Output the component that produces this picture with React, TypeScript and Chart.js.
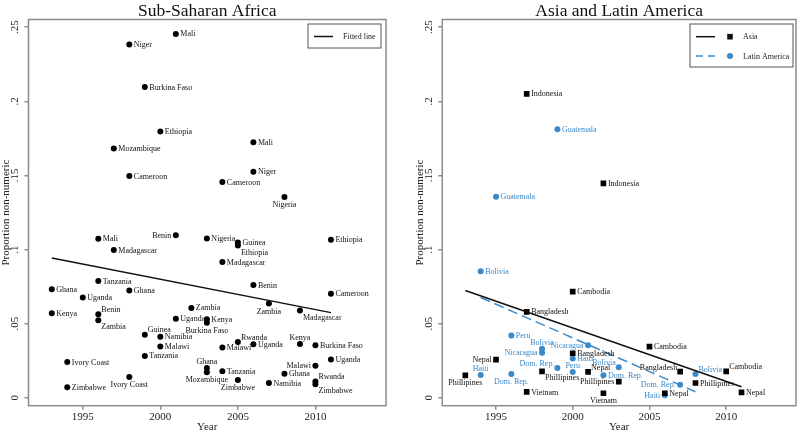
import React, { useEffect, useRef } from 'react';
import { Chart, registerables } from 'chart.js';

Chart.register(...registerables);

const FONT = "'Liberation Serif', 'Times New Roman', serif";
const BLUE = '#3a89c9';
const FRAME = '#8c8c8c';

// ---------- Sub-Saharan Africa ----------
const afrCountries = [
  'Mali', 'Niger', 'Burkina Faso', 'Ethiopia', 'Mozambique', 'Cameroon', 'Mali', 'Niger', 'Cameroon', 'Nigeria',
  'Mali', 'Madagascar', 'Benin', 'Nigeria', 'Guinea', 'Ethiopia', 'Ethiopia', 'Madagascar', 'Tanzania', 'Ghana',
  'Ghana', 'Uganda', 'Kenya', 'Benin', 'Zambia', 'Benin', 'Cameroon', 'Zambia', 'Madagascar', 'Zambia',
  'Uganda', 'Kenya', 'Burkina Faso', 'Guinea', 'Namibia', 'Malawi', 'Tanzania', 'Rwanda', 'Malawi', 'Uganda',
  'Kenya', 'Burkina Faso', 'Uganda', 'Ivory Coast', 'Ivory Coast', 'Zimbabwe', 'Ghana', 'Mozambique', 'Tanzania', 'Zimbabwe',
  'Namibia', 'Ghana', 'Malawi', 'Rwanda', 'Zimbabwe',
];
const afrYears = [
  2001, 1998, 1999, 2000, 1997, 1998, 2006, 2006, 2004, 2008,
  1996, 1997, 2001, 2003, 2005, 2005, 2011, 2004, 1996, 1993,
  1998, 1995, 1993, 1996, 1996, 2006, 2011, 2007, 2009, 2002,
  2001, 2003, 2003, 1999, 2000, 2000, 1999, 2005, 2004, 2006,
  2009, 2010, 2011, 1994, 1998, 1994, 2003, 2003, 2004, 2005,
  2007, 2008, 2010, 2010, 2010,
];
const afrValues = [
  0.2455, 0.2383, 0.2097, 0.1797, 0.1682, 0.1496, 0.1723, 0.1525, 0.1455, 0.1354,
  0.1072, 0.0996, 0.1097, 0.1074, 0.1047, 0.1027, 0.1066, 0.0915, 0.0788, 0.0732,
  0.0723, 0.0676, 0.0570, 0.0563, 0.0523, 0.0761, 0.0701, 0.0635, 0.0588, 0.0606,
  0.0532, 0.0530, 0.0505, 0.0424, 0.0412, 0.0345, 0.0282, 0.0376, 0.0338, 0.0361,
  0.0363, 0.0354, 0.0257, 0.0241, 0.0140, 0.0070, 0.0201, 0.0172, 0.0178, 0.0120,
  0.0099, 0.0162, 0.0216, 0.0110, 0.0090,
];
// label clock positions (Stata style)
const afrLabelPos = [
  3, 3, 3, 3, 3, 3, 3, 3, 3, 6,
  3, 3, 9, 3, 3, 4, 3, 3, 3, 3,
  3, 3, 3, 2, 4, 3, 3, 6, 4, 3,
  3, 3, 6, 2, 3, 3, 3, 2, 3, 3,
  12, 3, 3, 3, 6, 3, 12, 6, 3, 6,
  3, 3, 9, 2, 4,
];
const afrFitYears = [1993, 2011];
const afrFitValues = [0.0942, 0.0574];

// ---------- Asia ----------
const asiaCountries = [
  'Indonesia', 'Indonesia', 'Cambodia', 'Bangladesh', 'Cambodia', 'Bangladesh', 'Nepal', 'Phillipines', 'Vietnam',
  'Phillipines', 'Nepal', 'Phillipines', 'Vietnam', 'Bangladesh', 'Nepal', 'Phillipines', 'Cambodia', 'Nepal',
];
const asiaYears = [1997, 2002, 2000, 1997, 2005, 2000, 1995, 1993, 1997, 1998, 2001, 2003, 2002, 2007, 2006, 2008, 2010, 2011];
const asiaValues = [
  0.205, 0.1446, 0.0716, 0.0579, 0.0345, 0.0300, 0.0257, 0.0151, 0.0039,
  0.0178, 0.0174, 0.0108, 0.0030, 0.0176, 0.0030, 0.0099, 0.0178, 0.0036,
];
const asiaLabelPos = [3, 3, 3, 3, 3, 3, 9, 6, 3, 4, 2, 9, 6, 10, 3, 3, 2, 3];
const asiaFitYears = [1993, 2011];
const asiaFitValues = [0.0723, 0.0074];

// ---------- Latin America ----------
const latCountries = [
  'Guatemala', 'Guatemala', 'Bolivia', 'Peru', 'Bolivia', 'Nicaragua', 'Nicaragua', 'Haiti', 'Haiti',
  'Dom. Rep.', 'Dom. Rep.', 'Peru', 'Dom. Rep.', 'Bolivia', 'Dom. Rep.', 'Haiti', 'Bolivia',
];
const latYears = [1999, 1995, 1994, 1996, 1998, 1998, 2001, 2000, 1994, 1996, 1999, 2000, 2002, 2003, 2007, 2006, 2008];
const latValues = [
  0.1811, 0.1356, 0.0854, 0.0419, 0.0331, 0.0304, 0.0354, 0.0264, 0.0153,
  0.0160, 0.0201, 0.0174, 0.0151, 0.0205, 0.0088, 0.0016, 0.0160,
];
const latLabelPos = [3, 3, 3, 3, 12, 9, 9, 3, 12, 6, 10, 12, 3, 10, 9, 9, 2];
const latFitYears = [1994, 2008];
const latFitValues = [0.0676, 0.0040];

// ---------- axes ----------
const yTickValues = [0, 0.05, 0.1, 0.15, 0.2, 0.25];
const yTickLabels = ['0', '.05', '.1', '.15', '.2', '.25'];
const xTickValues = [1995, 2000, 2005, 2010];
const yMin = -0.0054;
const yMax = 0.2552;
const xMin = 1991.5;
const xMax = 2014.55;

const pts = (xs: number[], ys: number[]) => xs.map((x, i) => ({ x, y: ys[i] }));

function labelPlacement(pos: number, x: number, y: number) {
  switch (pos) {
    case 12: return { x, y: y - 6, align: 'center' };
    case 6: return { x, y: y + 8, align: 'center' };
    case 9: return { x: x - 4.5, y: y + 0.5, align: 'right' };
    case 2: return { x: x + 3, y: y - 4.5, align: 'left' };
    case 4: return { x: x + 3, y: y + 7, align: 'left' };
    case 10: return { x: x - 3, y: y - 4, align: 'right' };
    default: return { x: x + 4.5, y: y + 0.5, align: 'left' };
  }
}

const decor = {
  id: 'decor',
  afterDraw(chart: any, _args: any, opts: any) {
    const { ctx, chartArea: a, scales } = chart;
    ctx.save();
    // point labels
    chart.data.datasets.forEach((ds: any, di: number) => {
      if (!ds.pointLabels) return;
      const meta = chart.getDatasetMeta(di);
      ctx.fillStyle = ds.labelColor;
      ctx.font = `8px ${FONT}`;
      ctx.textBaseline = 'middle';
      meta.data.forEach((el: any, i: number) => {
        const p = labelPlacement(ds.labelPos[i], el.x, el.y);
        ctx.textAlign = p.align;
        ctx.fillText(ds.pointLabels[i], p.x, p.y);
      });
    });
    // frame
    ctx.strokeStyle = FRAME;
    ctx.lineWidth = 1.5;
    ctx.strokeRect(a.left, a.top, a.right - a.left, a.bottom - a.top);
    // y tick labels (rotated)
    ctx.fillStyle = '#222';
    ctx.font = `11px ${FONT}`;
    ctx.textAlign = 'center';
    ctx.textBaseline = 'middle';
    yTickValues.forEach((v, i) => {
      const y = scales.y.getPixelForValue(v);
      ctx.save();
      ctx.translate(a.left - 13, y);
      ctx.rotate(-Math.PI / 2);
      ctx.fillText(yTickLabels[i], 0, 0);
      ctx.restore();
    });
    // y title
    ctx.font = `11px ${FONT}`;
    ctx.save();
    ctx.translate(a.left - 22.5, (a.top + a.bottom) / 2);
    ctx.rotate(-Math.PI / 2);
    ctx.fillText('Proportion non-numeric', 0, 0);
    ctx.restore();
    // x title
    ctx.fillText('Year', (a.left + a.right) / 2, 427);
    // main title
    ctx.font = `17.5px ${FONT}`;
    ctx.textBaseline = 'alphabetic';
    ctx.fillStyle = '#111';
    ctx.fillText(opts.title, (a.left + a.right) / 2, 15.5);
    // legend
    const L = opts.legend;
    const bx = a.right - L.rightGap - L.width;
    const by = a.top + 4.5;
    ctx.fillStyle = '#fff';
    ctx.fillRect(bx, by, L.width, L.height);
    ctx.strokeStyle = '#555';
    ctx.lineWidth = 1;
    ctx.strokeRect(bx, by, L.width, L.height);
    ctx.font = `8px ${FONT}`;
    ctx.textAlign = 'left';
    ctx.textBaseline = 'middle';
    L.items.forEach((it: any, i: number) => {
      const yy = by + L.rowY[i];
      ctx.strokeStyle = it.color;
      ctx.lineWidth = 1.5;
      ctx.setLineDash(it.dash || []);
      ctx.beginPath();
      ctx.moveTo(bx + 6, yy);
      ctx.lineTo(bx + 25, yy);
      ctx.stroke();
      ctx.setLineDash([]);
      ctx.fillStyle = it.color;
      if (it.marker === 'rect') {
        ctx.fillRect(bx + 40 - 2.8, yy - 2.8, 5.6, 5.6);
      } else if (it.marker === 'circle') {
        ctx.beginPath();
        ctx.arc(bx + 40, yy, 3, 0, Math.PI * 2);
        ctx.fill();
      }
      ctx.fillStyle = '#222';
      ctx.fillText(it.text, bx + L.textX, yy + 0.5);
    });
    ctx.restore();
  },
};

function makeScales(yWidth: number) {
  const grid = { drawOnChartArea: false, drawTicks: true, tickLength: 4, color: FRAME, lineWidth: 1.5 };
  return {
    x: {
      type: 'linear',
      min: xMin,
      max: xMax,
      afterBuildTicks: (s: any) => { s.ticks = xTickValues.map((v) => ({ value: v })); },
      afterFit: (s: any) => { s.height = 27.3; },
      grid,
      border: { display: false },
      ticks: {
        font: { family: FONT, size: 11 },
        color: '#222',
        padding: 1,
        maxRotation: 0,
        autoSkip: false,
        callback: (v: any) => String(v),
      },
    },
    y: {
      type: 'linear',
      min: yMin,
      max: yMax,
      afterBuildTicks: (s: any) => { s.ticks = yTickValues.map((v) => ({ value: v })); },
      afterFit: (s: any) => { s.width = yWidth; },
      grid,
      border: { display: false },
      ticks: { callback: () => '' },
    },
  };
}

const scatterDs = (labels: string[], xs: number[], ys: number[], pos: number[], color: string, style: string, radius: number) => ({
  type: 'scatter',
  data: pts(xs, ys),
  pointLabels: labels,
  labelPos: pos,
  labelColor: color === BLUE ? BLUE : '#111',
  pointStyle: style,
  pointRadius: radius,
  pointBackgroundColor: color,
  pointBorderWidth: 0,
  borderColor: color,
  showLine: false,
});

const lineDs = (xs: number[], ys: number[], color: string, dash: number[]) => ({
  type: 'scatter',
  data: pts(xs, ys),
  showLine: true,
  borderColor: color,
  borderWidth: 1.5,
  borderDash: dash,
  pointRadius: 0,
  fill: false,
});

function africaConfig(): any {
  return {
    type: 'scatter',
    data: {
      datasets: [
        lineDs(afrFitYears, afrFitValues, '#111', []),
        scatterDs(afrCountries, afrYears, afrValues, afrLabelPos, '#000', 'circle', 3),
      ],
    },
    options: {
      responsive: false,
      animation: false,
      devicePixelRatio: 1,
      layout: { padding: { top: 19.5, right: 14, left: 0, bottom: 0 } },
      scales: makeScales(28.5),
      plugins: {
        legend: { display: false },
        tooltip: { enabled: false },
        title: { display: false },
        decor: {
          title: 'Sub-Saharan Africa',
          legend: {
            width: 73, height: 24, rightGap: 5, textX: 35, rowY: [12.5],
            items: [{ color: '#111', text: 'Fitted line' }],
          },
        },
      },
    },
    plugins: [decor],
  };
}

function asiaConfig(): any {
  return {
    type: 'scatter',
    data: {
      datasets: [
        lineDs(asiaFitYears, asiaFitValues, '#111', []),
        lineDs(latFitYears, latFitValues, BLUE, [10, 5]),
        scatterDs(asiaCountries, asiaYears, asiaValues, asiaLabelPos, '#000', 'rect', 4),
        scatterDs(latCountries, latYears, latValues, latLabelPos, BLUE, 'circle', 3),
      ],
    },
    options: {
      responsive: false,
      animation: false,
      devicePixelRatio: 1,
      layout: { padding: { top: 19.5, right: 3, left: 0, bottom: 0 } },
      scales: makeScales(42.3),
      plugins: {
        legend: { display: false },
        tooltip: { enabled: false },
        title: { display: false },
        decor: {
          title: 'Asia and Latin America',
          legend: {
            width: 103, height: 43, rightGap: 3, textX: 53, rowY: [12.7, 32],
            items: [
              { color: '#111', marker: 'rect', text: 'Asia' },
              { color: BLUE, marker: 'circle', dash: [7, 5], text: 'Latin America' },
            ],
          },
        },
      },
    },
    plugins: [decor],
  };
}

function Panel({ make }: { make: () => any }) {
  const ref = useRef<HTMLCanvasElement>(null);
  useEffect(() => {
    const chart = new Chart(ref.current as HTMLCanvasElement, make());
    return () => chart.destroy();
  }, [make]);
  return <canvas ref={ref} width={400} height={433} style={{ display: 'block', width: 400, height: 433 }} />;
}

export default function App() {
  return (
    <div style={{ position: 'absolute', left: 0, top: 0, width: 800, height: 433, display: 'flex', background: '#fff' }}>
      <Panel make={africaConfig} />
      <Panel make={asiaConfig} />
    </div>
  );
}
